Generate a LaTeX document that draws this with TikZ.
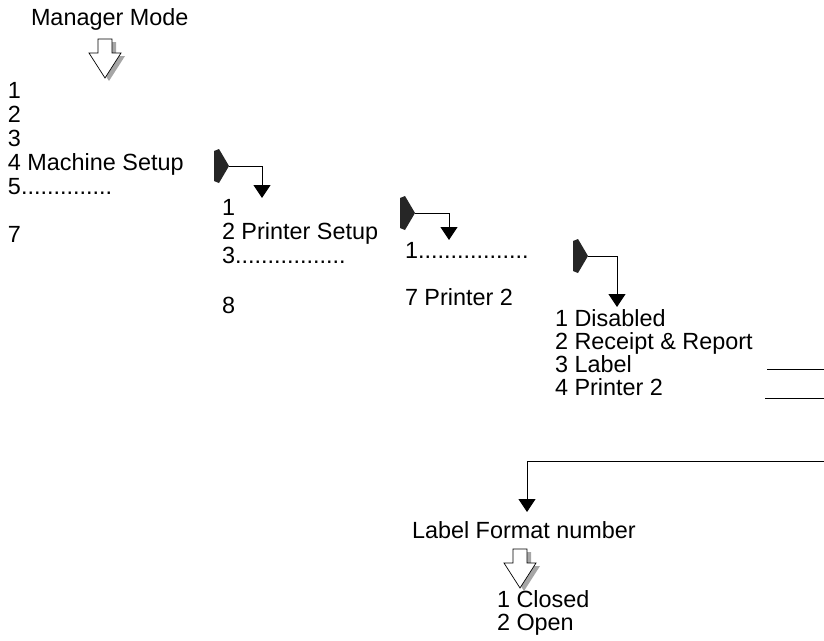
\documentclass[tikz,border=0pt]{standalone}
\usepackage{fontspec}
\setmainfont{Liberation Sans}
\usetikzlibrary{arrows.meta}
\tikzset{
  txt/.style={anchor=base west, inner sep=0pt, outer sep=0pt, font=\fontsize{23.4}{24}\selectfont},
  conn/.style={line width=1pt, -{Triangle[width=17pt,length=13pt]}},
  plain/.style={line width=1pt},
  hollowdown/.pic={
    \fill[gray!70] (-3,-36) -- (11,-36) -- (11,-22) -- (20,-22) -- (4,3) -- (-12,-22) -- (-3,-22) -- cycle;
    \filldraw[fill=white, draw=black, line width=0.7pt] (-7,-39) -- (7,-39) -- (7,-25) -- (16,-25) -- (0,0) -- (-16,-25) -- (-7,-25) -- cycle;
  },
  blockright/.pic={
    \fill[black!85] (-15,-15) -- (-10,-17) -- (0,0) -- (-10,17) -- (-15,15) -- cycle;
  }
}
\begin{document}
\begin{tikzpicture}[x=1pt,y=-1pt]
\useasboundingbox (0,0) rectangle (824,640);
% top
\node[txt] (mm) at (31,25) {Manager Mode};
\pic at (105,78) {hollowdown};
% list 1
\node[txt] (l1a) at (8,98) {1};
\node[txt] (l1b) at (8,122) {2};
\node[txt] (l1c) at (8,146) {3};
\node[txt] (l1d) at (8,170) {4 Machine Setup};
\node[txt] (l1e) at (8,194) {5..............};
\node[txt] (l1g) at (8,242) {7};
% arrow 1
\pic at (229,166) {blockright};
\coordinate (t1) at (229,166);
\coordinate (a1) at (262,198);
\draw[conn] (t1) -| (a1);
% list 2
\node[txt] (l2a) at (222,215) {1};
\node[txt] (l2b) at (222,239) {2 Printer Setup};
\node[txt] (l2c) at (222,263) {3.................};
\node[txt] (l2h) at (222,313) {8};
% arrow 2
\pic at (415,213) {blockright};
\coordinate (t2) at (415,213);
\coordinate (a2) at (449,240);
\draw[conn] (t2) -| (a2);
% list 3
\node[txt] (l3a) at (405,258) {1.................};
\node[txt] (l3g) at (405,305) {7 Printer 2};
% arrow 3
\pic at (588,256) {blockright};
\coordinate (t3) at (588,256);
\coordinate (a3) at (617,307);
\draw[conn] (t3) -| (a3);
% list 4
\node[txt] (l4a) at (555,326) {1 Disabled};
\node[txt] (l4b) at (555,349) {2 Receipt \& Report};
\node[txt] (l4c) at (555,372) {3 Label};
\node[txt] (l4d) at (555,395) {4 Printer 2};
% lines to right edge
\coordinate (s1) at (767,369);
\coordinate (e1) at (824,369);
\draw[plain] (s1) -- (e1);
\coordinate (s2) at (765,398);
\coordinate (e2) at (824,398);
\draw[plain] (s2) -- (e2);
\coordinate (e3) at (824,461);
\coordinate (a4) at (527,512);
\draw[conn] (e3) -| (a4);
% bottom
\node[txt] (lf) at (412,538) {Label Format number};
\pic at (520,588) {hollowdown};
\node[txt] (c1) at (497,607) {1 Closed};
\node[txt] (c2) at (497,630) {2 Open};
\end{tikzpicture}
\end{document}
